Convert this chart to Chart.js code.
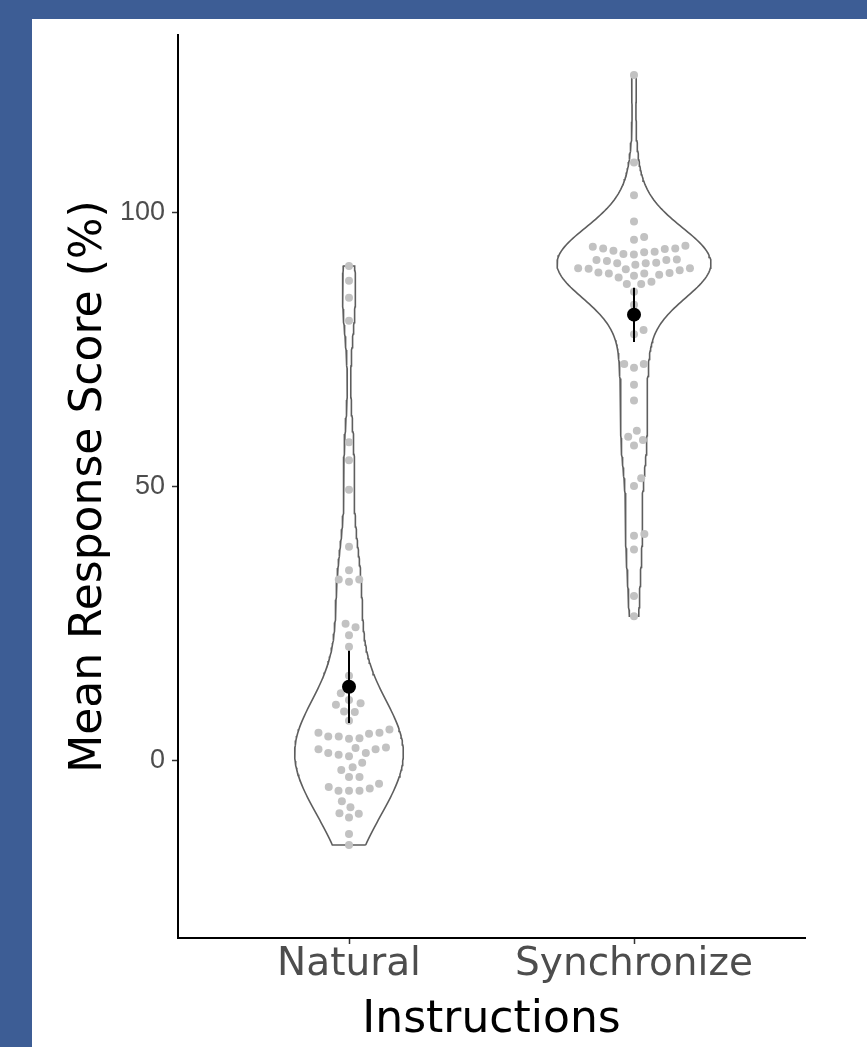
<!DOCTYPE html>
<html>
<head>
<meta charset="utf-8">
<title>Mean Response Score by Instructions</title>
<script src="https://cdn.jsdelivr.net/npm/chart.js@4.4.0/dist/chart.umd.min.js"></script>
<style>
  html, body { margin: 0; padding: 0; background: #3d5d95; overflow: hidden; }
  #panel { position: absolute; left: 32px; top: 19px; width: 835px; height: 1028px; background: #ffffff; }
  canvas { display: block; }
</style>
</head>
<body>
<div id="panel"><canvas id="scoreChart" width="835" height="1028"></canvas></div>
<script>
// categories
const groups = ['Natural', 'Synchronize'];

// individual participant scores
const naturalScores = [90.3, 87.6, 84.5, 80.3, 58.1, 54.8, 49.4, 39.0, 34.7, 33.0, 32.6, 33.0,
  24.9, 24.3, 22.8, 20.7, 15.4, 13.4, 12.2, 10.4, 10.1, 11.0, 8.9, 8.8, 7.2, 5.6,
  4.8, 4.3, 5.0, 3.9, 4.0, 5.0, 4.3, 1.3, 2.3, 1.0, 2.0, 0.7, 2.0, 1.3, 2.2,
  -1.3, -0.5, -1.8, -3.1, -3.1, -4.3, -4.9, -5.6, -5.2, -5.6, -5.6,
  -7.5, -8.6, -9.7, -10.5, -9.8, -13.5, -15.5];

const synchronizeScores = [125.2, 109.2, 103.2, 98.4, 95.6, 95.1,
  93.4, 93.5, 93.8, 94.0, 93.5, 93.1, 92.4, 92.5, 92.8, 92.9,
  90.9, 91.4, 91.4, 91.5, 91.2, 90.8, 90.5, 90.8,
  89.8, 88.9, 89.9, 89.9, 89.7, 88.9, 89.0, 89.1, 89.5,
  88.7, 88.5, 88.2, 87.4, 87.0, 87.0, 85.6, 83.2, 78.6, 77.8,
  72.4, 71.7, 72.4, 68.6, 65.7, 60.2, 58.5, 59.1, 57.5,
  51.5, 50.1, 41.3, 41.0, 38.5, 30.0, 26.3];

// group summaries
const groupMeans = [13.4, 81.4];
const ciLower = [6.8, 76.4];
const ciUpper = [20.0, 86.3];

// tick labels
const yTicks = [0, 50, 100];

const allScores = [naturalScores, synchronizeScores];

// --- violin density (gaussian kernel, nrd0 bandwidth, trimmed to data range)
function quantile(sorted, p) {
  const h = (sorted.length - 1) * p;
  const lo = Math.floor(h);
  const hi = Math.min(lo + 1, sorted.length - 1);
  return sorted[lo] + (h - lo) * (sorted[hi] - sorted[lo]);
}
function bwNrd0(x) {
  const n = x.length;
  const m = x.reduce((a, b) => a + b, 0) / n;
  const sd = Math.sqrt(x.reduce((a, b) => a + (b - m) * (b - m), 0) / (n - 1));
  const s = [...x].sort((a, b) => a - b);
  const iqr = quantile(s, 0.75) - quantile(s, 0.25);
  return 0.9 * Math.min(sd, iqr / 1.34) * Math.pow(n, -0.2);
}
function density(x, steps) {
  const bw = bwNrd0(x);
  const lo = Math.min(...x), hi = Math.max(...x);
  const res = [];
  for (let k = 0; k < steps; k++) {
    const y = lo + (hi - lo) * k / (steps - 1);
    let d = 0;
    x.forEach(v => { const z = (y - v) / bw; d += Math.exp(-0.5 * z * z); });
    res.push({ y: y, d: d / (x.length * bw * Math.sqrt(2 * Math.PI)) });
  }
  return res;
}

const dens = allScores.map(s => density(s, 256));
const maxDens = Math.max(...dens.map(g => Math.max(...g.map(p => p.d))));
const halfWidth = 0.27;

function violinOutline(g, center) {
  const right = g.map(p => ({ x: center + halfWidth * p.d / maxDens, y: p.y }));
  const left = g.slice().reverse().map(p => ({ x: center - halfWidth * p.d / maxDens, y: p.y }));
  const pts = right.concat(left);
  pts.push(right[0]);
  return pts;
}

const datasets = [];
groups.forEach((name, i) => {
  datasets.push({
    label: name + ' mean',
    data: [{ x: i + 1, y: groupMeans[i] }],
    backgroundColor: '#000000',
    borderWidth: 0,
    pointRadius: 7,
    order: 0
  });
  datasets.push({
    label: name + ' CI',
    data: [{ x: i + 1, y: ciLower[i] }, { x: i + 1, y: ciUpper[i] }],
    showLine: true,
    borderColor: '#000000',
    borderWidth: 2,
    pointRadius: 0,
    order: 1
  });
  datasets.push({
    label: name + ' scores',
    data: allScores[i].map(v => ({ x: i + 1, y: v })),
    backgroundColor: '#c2c2c2',
    borderWidth: 0,
    pointRadius: 4,
    order: 2
  });
  datasets.push({
    label: name + ' violin',
    data: violinOutline(dens[i], i + 1),
    showLine: true,
    fill: false,
    borderColor: '#5e5e5e',
    borderWidth: 1.6,
    pointRadius: 0,
    tension: 0,
    order: 3
  });
});

const ctx = document.getElementById('scoreChart').getContext('2d');
const myChart = new Chart(ctx, {
  type: 'scatter',
  data: { datasets: datasets },
  options: {
    responsive: false,
    animation: false,
    devicePixelRatio: 1,
    layout: { padding: { left: 20, top: 16, right: 62, bottom: 0 } },
    plugins: { legend: { display: false }, tooltip: { enabled: false } },
    scales: {
      x: {
        type: 'linear',
        min: 0.4,
        max: 2.6,
        afterBuildTicks: function (s) { s.ticks = [{ value: 1 }, { value: 2 }]; },
        afterFit: function (s) { s.height = 109; s.paddingLeft = 0; s.paddingRight = 0; },
        ticks: {
          callback: function (v) { return groups[v - 1]; },
          font: { family: 'DejaVu Sans', size: 39 },
          color: '#4d4d4d',
          padding: -3,
          maxRotation: 0
        },
        grid: { drawOnChartArea: false, drawTicks: true, tickLength: 6, tickColor: '#333333', tickWidth: 1.5 },
        border: { display: true, color: '#000000', width: 2 },
        title: {
          display: true,
          text: 'Instructions',
          font: { family: 'DejaVu Sans', size: 44 },
          color: '#000000',
          padding: { top: 0, bottom: 0 }
        }
      },
      y: {
        type: 'linear',
        min: -32.5,
        max: 132.5,
        afterBuildTicks: function (s) { s.ticks = yTicks.map(v => ({ value: v })); },
        afterFit: function (s) { s.width = 126; s.paddingTop = 0; s.paddingBottom = 0; },
        ticks: {
          font: { family: 'Liberation Sans', size: 27 },
          color: '#4d4d4d',
          padding: 7
        },
        grid: { drawOnChartArea: false, drawTicks: true, tickLength: 6, tickColor: '#333333', tickWidth: 1.5 },
        border: { display: true, color: '#000000', width: 2 },
        title: {
          display: true,
          text: 'Mean Response Score (%)',
          font: { family: 'DejaVu Sans', size: 44 },
          color: '#000000',
          padding: { top: 11, bottom: 0 }
        }
      }
    }
  }
});

// beeswarm offsets, worked out in pixel space once the scales exist
function swarm(values, center, xs, ys, d) {
  const order = values.map((v, i) => i).sort((a, b) => values[a] - values[b]);
  const placed = [];
  const cx = xs.getPixelForValue(center);
  const out = new Array(values.length);
  order.forEach(i => {
    const py = ys.getPixelForValue(values[i]);
    const near = placed.filter(p => Math.abs(p.py - py) < d);
    const cands = [0];
    near.forEach(p => {
      const dx = Math.sqrt(d * d - (p.py - py) * (p.py - py));
      cands.push(p.dx + dx, p.dx - dx);
    });
    cands.sort((a, b) => Math.abs(a) - Math.abs(b));
    const ok = cands.find(c => near.every(p => (p.dx - c) * (p.dx - c) + (p.py - py) * (p.py - py) >= d * d - 0.01));
    placed.push({ dx: ok, py: py });
    out[i] = { x: xs.getValueForPixel(cx + ok), y: values[i] };
  });
  return out;
}

groups.forEach((name, i) => {
  const ds = myChart.data.datasets.find(d => d.label === name + ' scores');
  ds.data = swarm(allScores[i], i + 1, myChart.scales.x, myChart.scales.y, 10.5);
});
myChart.update();
</script>
</body>
</html>
